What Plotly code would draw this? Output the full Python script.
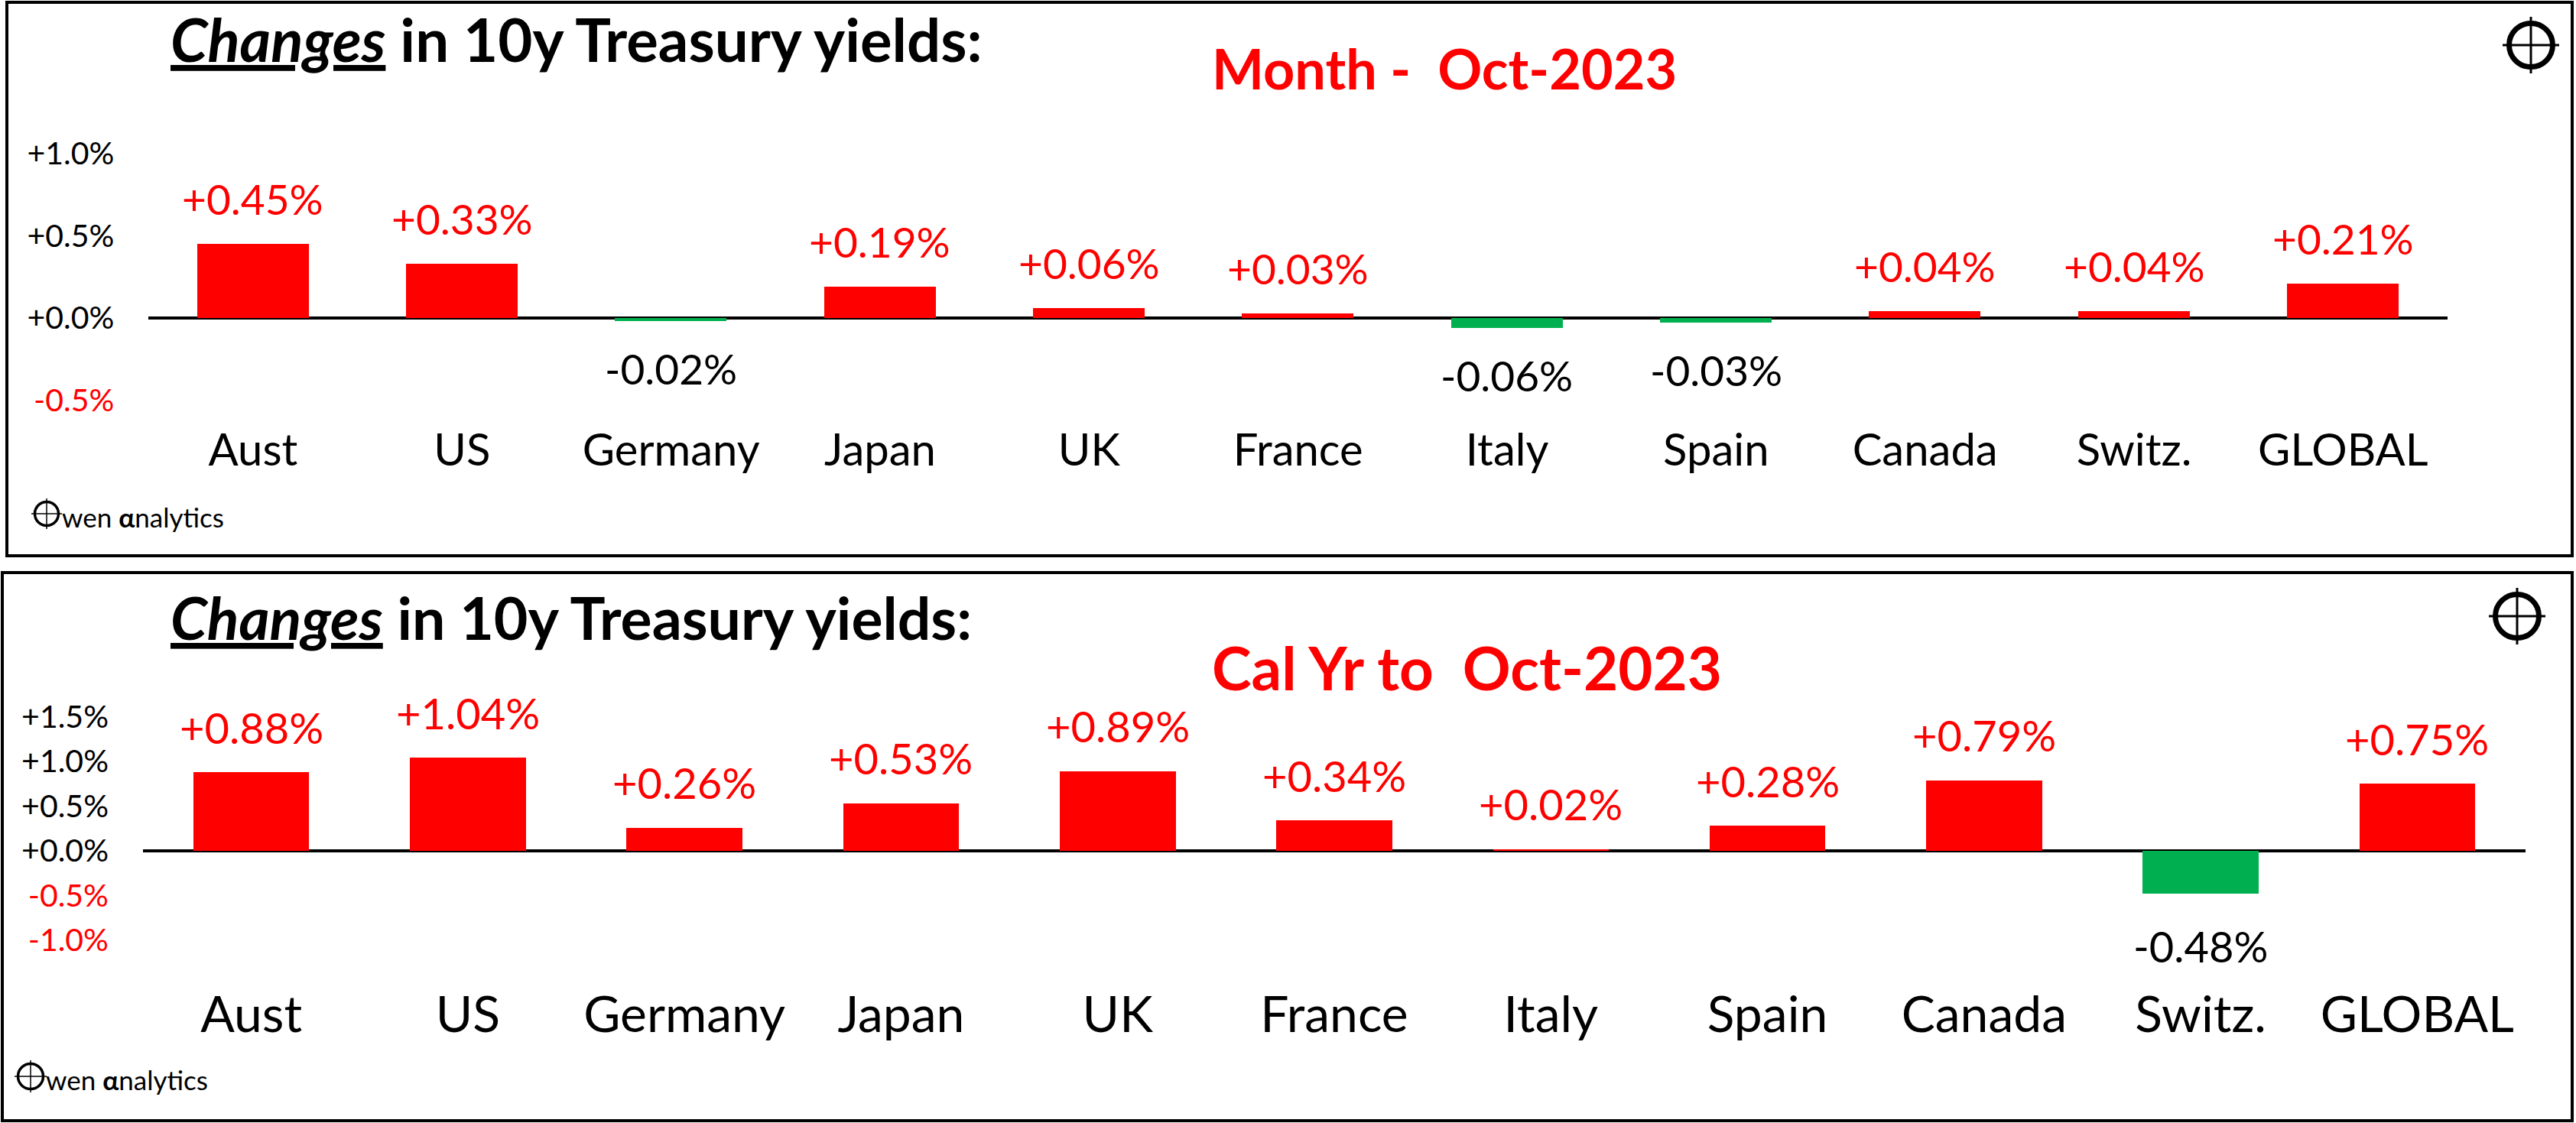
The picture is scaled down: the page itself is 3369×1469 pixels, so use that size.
import plotly.graph_objects as go

W, H = 3369, 1469

categories = ["Aust", "US", "Germany", "Japan", "UK", "France", "Italy", "Spain", "Canada", "Switz.", "GLOBAL"]
month_changes = [0.45, 0.33, -0.02, 0.19, 0.06, 0.03, -0.06, -0.03, 0.04, 0.04, 0.21]
ytd_changes = [0.88, 1.04, 0.26, 0.53, 0.89, 0.34, 0.02, 0.28, 0.79, -0.48, 0.75]
month_ticks = [-0.5, 0.0, 0.5, 1.0]
ytd_ticks = [-1.0, -0.5, 0.0, 0.5, 1.0, 1.5]
title_main = "<b><i><u>Changes</u></i> in 10y Treasury yields:</b>"
title_month = "<b>Month -\u00a0 Oct-2023</b>"
title_ytd = "<b>Cal Yr to\u00a0 Oct-2023</b>"
brand = "wen <b>\u03b1</b>nalytics"

RED = "#FF0000"
GREEN = "#00B050"
FONT = "Lato"


def xp(px):
    return px / W


def yp(py):
    return 1 - py / H


def tick_text(v):
    s = f"{v:+.1f}%"
    if v < 0:
        return f"<span style='color:{RED}'>{s}</span>"
    return s


fig = go.Figure()

fig.add_trace(go.Bar(
    x=categories, y=month_changes, xaxis="x", yaxis="y",
    marker=dict(color=[RED if v >= 0 else GREEN for v in month_changes], line=dict(width=0)),
    width=0.535, hoverinfo="skip",
))
fig.add_trace(go.Bar(
    x=categories, y=ytd_changes, xaxis="x2", yaxis="y2",
    marker=dict(color=[RED if v >= 0 else GREEN for v in ytd_changes], line=dict(width=0)),
    width=0.535, hoverinfo="skip",
))

annotations = []
for xa, ya, vals, font_size in (("x", "y", month_changes, 55), ("x2", "y2", ytd_changes, 56)):
    for c, v in zip(categories, vals):
        annotations.append(dict(
            x=c, y=v, xref=xa, yref=ya, text=f"{v:+.2f}%", showarrow=False,
            yanchor="middle", xanchor="center",
            yshift=59 if v >= 0 else (-62 if ya == "y" else -68),
            font=dict(family=FONT, size=font_size, color=RED if v >= 0 else "black"),
        ))

# titles
annotations += [
    dict(x=xp(221), y=yp(51), xref="paper", yref="paper", text=title_main, showarrow=False,
         xanchor="left", yanchor="middle", font=dict(family=FONT, size=78, color="black")),
    dict(x=xp(1583), y=yp(89), xref="paper", yref="paper", text=title_month, showarrow=False,
         xanchor="left", yanchor="middle", font=dict(family=FONT, size=72, color=RED)),
    dict(x=xp(221), y=yp(807), xref="paper", yref="paper", text=title_main, showarrow=False,
         xanchor="left", yanchor="middle", font=dict(family=FONT, size=77, color="black")),
    dict(x=xp(1583), y=yp(873), xref="paper", yref="paper", text=title_ytd, showarrow=False,
         xanchor="left", yanchor="middle", font=dict(family=FONT, size=78, color=RED)),
    dict(x=xp(79), y=yp(676), xref="paper", yref="paper", text=brand, showarrow=False,
         xanchor="left", yanchor="middle", font=dict(family=FONT, size=35, color="black")),
    dict(x=xp(58), y=yp(1412), xref="paper", yref="paper", text=brand, showarrow=False,
         xanchor="left", yanchor="middle", font=dict(family=FONT, size=35, color="black")),
]

shapes = []
# panel borders
shapes.append(dict(type="rect", xref="paper", yref="paper", x0=xp(9), x1=xp(3364), y0=yp(727), y1=yp(3),
                   line=dict(color="black", width=4), fillcolor="rgba(0,0,0,0)", layer="above"))
shapes.append(dict(type="rect", xref="paper", yref="paper", x0=xp(3), x1=xp(3364), y0=yp(1466), y1=yp(749),
                   line=dict(color="black", width=4), fillcolor="rgba(0,0,0,0)", layer="above"))


def crosshair(cx, cy, r, ring_w, arm, arm_w):
    out = [dict(type="circle", xref="paper", yref="paper", x0=xp(cx - r), x1=xp(cx + r),
                y0=yp(cy + r), y1=yp(cy - r), line=dict(color="black", width=ring_w),
                fillcolor="rgba(0,0,0,0)")]
    out.append(dict(type="line", xref="paper", yref="paper", x0=xp(cx - arm), x1=xp(cx + arm),
                    y0=yp(cy), y1=yp(cy), line=dict(color="black", width=arm_w)))
    out.append(dict(type="line", xref="paper", yref="paper", x0=xp(cx), x1=xp(cx),
                    y0=yp(cy - arm), y1=yp(cy + arm), line=dict(color="black", width=arm_w)))
    return out


shapes += crosshair(3310, 59, 28.5, 7, 37, 3)
shapes += crosshair(3292, 806, 28.5, 7, 37, 3)
shapes += crosshair(61, 672, 15.5, 3.5, 20, 1.5)
shapes += crosshair(40, 1408, 16.5, 3.5, 21, 1.5)

axis_common = dict(showgrid=False, showline=False, ticks="", fixedrange=True)

TOP_BOTTOM = 550
BOT_BOTTOM = 1283

fig.update_layout(
    width=W, height=H, margin=dict(l=0, r=0, t=0, b=0),
    paper_bgcolor="white", plot_bgcolor="rgba(0,0,0,0)",
    showlegend=False, bargap=0,
    xaxis=dict(domain=[xp(194.3), xp(3201)], anchor="y", type="category",
               categoryorder="array", categoryarray=categories, range=[-0.5, 10.5],
               tickfont=dict(family=FONT, size=58, color="black"), zeroline=False, **axis_common),
    yaxis=dict(domain=[yp(TOP_BOTTOM), yp(150)], anchor="x",
               range=[-(TOP_BOTTOM - 416) / 215.6, (416 - 150) / 215.6],
               tickvals=month_ticks, ticktext=[tick_text(v) for v in month_ticks],
               tickfont=dict(family=FONT, size=41, color="black"), ticklabelstandoff=44,
               zeroline=True, zerolinecolor="black", zerolinewidth=4, **axis_common),
    xaxis2=dict(domain=[xp(187), xp(3303)], anchor="y2", type="category",
                categoryorder="array", categoryarray=categories, range=[-0.5, 10.5],
                tickfont=dict(family=FONT, size=66, color="black"), zeroline=False, **axis_common),
    yaxis2=dict(domain=[yp(BOT_BOTTOM), yp(900)], anchor="x2",
                range=[-(BOT_BOTTOM - 1113) / 117, (1113 - 900) / 117],
                tickvals=ytd_ticks, ticktext=[tick_text(v) for v in ytd_ticks],
                tickfont=dict(family=FONT, size=41, color="black"), ticklabelstandoff=44,
                zeroline=True, zerolinecolor="black", zerolinewidth=4, **axis_common),
    annotations=annotations,
    shapes=shapes,
)

fig.write_html("out.html")
